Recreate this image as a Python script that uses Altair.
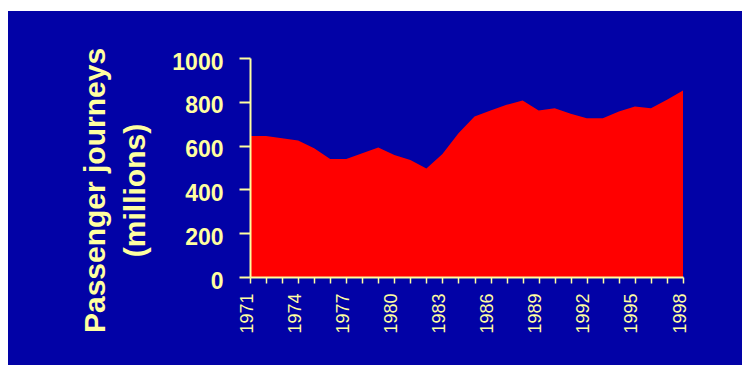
import altair as alt
import pandas as pd

# Passenger journeys (millions), 1971-1998
years = list(range(1971, 1999))
journeys = [644, 644, 634, 623, 588, 539, 539, 565, 591, 557, 534, 496, 562, 656,
            733, 760, 786, 806, 760, 771, 745, 725, 725, 756, 779, 771, 809, 852]
y_ticks = [0, 200, 400, 600, 800, 1000]
y_title = ["Passenger journeys", "(millions)"]

df = pd.DataFrame({"year": years, "journeys": journeys})

W, H = 433, 219
PAD = {"left": 250, "top": 58, "right": 59, "bottom": 88}
BLUE = "#0202A6"
YELLOW = "#FFFFA0"
RED = "#FF0000"

# dark blue panel behind the whole figure, leaving a thin white margin top/left
panel = alt.Chart(pd.DataFrame({"k": [0]})).mark_rect(color=BLUE, clip=False).encode(
    x=alt.value(8 - PAD["left"]),
    x2=alt.value(742 - PAD["left"]),
    y=alt.value(11 - PAD["top"]),
    y2=alt.value(365 - PAD["top"]),
)

area = alt.Chart(df).mark_area(color=RED, interpolate="linear").encode(
    x=alt.X(
        "year:Q",
        scale=alt.Scale(domain=[years[0], years[-1]], nice=False, zero=False),
        axis=alt.Axis(
            values=years,
            labelExpr="(datum.value - 1971) % 3 == 0 ? '' + datum.value : ''",
            title=None,
            grid=False,
            zindex=1,
            domainColor=YELLOW,
            domainWidth=2,
            tickColor=YELLOW,
            tickWidth=1.5,
            tickSize=6,
            labelColor=YELLOW,
            labelFont="Arial",
            labelFontSize=18,
            labelAngle=270,
            labelPadding=10,
            labelOffset=-3,
            labelFlush=False,
            labelOverlap=False,
            labelBound=False,
        ),
    ),
    y=alt.Y(
        "journeys:Q",
        scale=alt.Scale(domain=[0, 1000], nice=False),
        axis=alt.Axis(
            values=y_ticks,
            format="d",
            title=y_title,
            grid=False,
            zindex=1,
            domainColor=YELLOW,
            domainWidth=2,
            tickColor=YELLOW,
            tickWidth=2,
            tickSize=11,
            labelColor=YELLOW,
            labelFont="Arial",
            labelFontSize=23,
            labelFontWeight="bold",
            labelPadding=16,
            labelOffset=4,
            labelBound=False,
            labelOverlap=False,
            titleColor=YELLOW,
            titleFont="Arial",
            titleFontSize=30,
            titleFontWeight="bold",
            titleAngle=270,
            titleAlign="center",
            titleBaseline="alphabetic",
            titleLineHeight=40,
            titleX=-146,
            titleY=132,
        ),
    ),
)

chart = alt.layer(panel, area).properties(
    width=W,
    height=H,
    padding=PAD,
    autosize=alt.AutoSizeParams(type="none"),
    background="white",
).configure_view(stroke="transparent")

chart.save("out.html", embed_options={"renderer": "svg", "actions": False})
